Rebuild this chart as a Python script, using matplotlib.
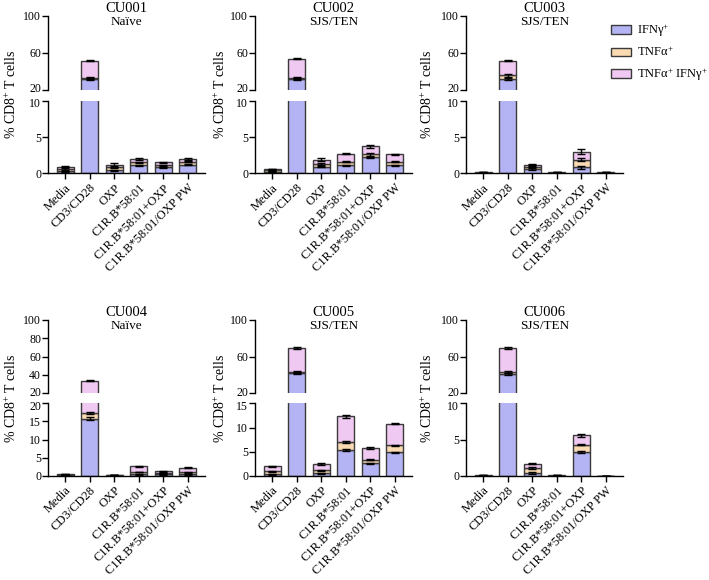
import matplotlib
matplotlib.use("Agg")
import matplotlib.pyplot as plt
from matplotlib.patches import Patch
from matplotlib.transforms import ScaledTranslation
import numpy as np

plt.rcParams['font.family'] = ['Liberation Serif', 'DejaVu Serif']
plt.rcParams['mathtext.fontset'] = 'custom'
plt.rcParams['mathtext.rm'] = 'Liberation Serif'
plt.rcParams['mathtext.it'] = 'Liberation Serif:italic'

categories = ["Media", "CD3/CD28", "OXP", "C1R.B*58:01", "C1R.B*58:01+OXP", "C1R.B*58:01/OXP PW"]
donors = ["CU001", "CU002", "CU003", "CU004", "CU005", "CU006"]
groups = ["Naïve", "SJS/TEN", "SJS/TEN", "Naïve", "SJS/TEN", "SJS/TEN"]
series_labels = ["IFNγ$^{+}$", "TNFα$^{+}$", "TNFα$^{+}$ IFNγ$^{+}$"]

# rows = donors, columns = categories
ifn = [
    [0.3, 31.0, 0.4, 1.1, 0.8, 1.2],
    [0.2, 31.5, 0.9, 1.1, 2.2, 1.1],
    [0.05, 31.5, 0.6, 0.05, 0.8, 0.05],
    [0.2, 15.8, 0.1, 0.5, 0.5, 0.5],
    [0.4, 42.0, 0.6, 5.4, 2.6, 4.9],
    [0.03, 41.0, 0.4, 0.03, 3.3, 0.01],
]
tnf = [
    [0.3, 1.5, 0.4, 0.4, 0.3, 0.4],
    [0.2, 1.0, 0.4, 0.5, 0.4, 0.5],
    [0.05, 4.0, 0.3, 0.05, 1.1, 0.05],
    [0.1, 1.5, 0.1, 0.6, 0.3, 0.5],
    [0.6, 1.0, 0.6, 1.6, 0.8, 1.4],
    [0.03, 2.0, 0.7, 0.03, 1.0, 0.01],
]
dbl = [
    [0.3, 19.0, 0.4, 0.5, 0.4, 0.4],
    [0.2, 21.0, 0.6, 1.1, 1.1, 1.0],
    [0.05, 16.0, 0.3, 0.05, 1.1, 0.05],
    [0.2, 16.2, 0.1, 1.6, 0.5, 1.3],
    [1.0, 26.5, 1.3, 5.3, 2.4, 4.5],
    [0.04, 26.5, 0.6, 0.04, 1.3, 0.01],
]
err_ifn = [
    [0.08, 1.0, 0.1, 0.1, 0.1, 0.1],
    [0.05, 1.0, 0.1, 0.1, 0.1, 0.1],
    [0.02, 1.0, 0.1, 0.02, 0.15, 0.02],
    [0.05, 0.3, 0.05, 0.1, 0.1, 0.1],
    [0.1, 1.2, 0.1, 0.2, 0.15, 0.15],
    [0.02, 1.0, 0.1, 0.02, 0.1, 0.01],
]
err_tnf = [
    [0.08, 1.0, 0.1, 0.1, 0.1, 0.1],
    [0.05, 0.8, 0.1, 0.1, 0.15, 0.1],
    [0.02, 1.5, 0.1, 0.02, 0.2, 0.02],
    [0.05, 0.3, 0.05, 0.1, 0.1, 0.1],
    [0.1, 0.8, 0.1, 0.2, 0.15, 0.15],
    [0.02, 0.8, 0.1, 0.02, 0.1, 0.01],
]
err_dbl = [
    [0.1, 0.8, 0.15, 0.1, 0.1, 0.15],
    [0.05, 0.8, 0.15, 0.1, 0.2, 0.1],
    [0.02, 0.8, 0.1, 0.02, 0.3, 0.02],
    [0.05, 0.5, 0.05, 0.1, 0.1, 0.1],
    [0.1, 0.8, 0.15, 0.3, 0.15, 0.1],
    [0.02, 0.8, 0.1, 0.02, 0.2, 0.01],
]
upper_ticks = [[20, 60, 100], [20, 60, 100], [20, 60, 100],
               [20, 40, 60, 80, 100], [20, 60, 100], [20, 60, 100]]
lower_ticks = [[0, 5, 10], [0, 5, 10], [0, 5, 10],
               [0, 5, 10, 15, 20], [0, 5, 10, 15], [0, 5, 10]]

colors = ["#b4b4f4", "#f9dab2", "#efc9f2"]
edge = "#3a3a3a"

W, H = 709, 580
fig = plt.figure(figsize=(W / 100, H / 100), dpi=100)

lefts = [48, 255, 466]
aw = 157
rows = [(16, 89.5, 100.7, 173.3), (320, 393.3, 403.3, 476)]
ylabel_x = [11, 220, 427]

x = np.arange(len(categories))
bw = 0.68

def fx(px):
    return px / W

def fy(py):
    return 1 - py / H

for i in range(6):
    r, c = divmod(i, 3)
    ut, ub, lt, lb = rows[r]
    axU = fig.add_axes([fx(lefts[c]), fy(ub), fx(aw), (ub - ut) / H])
    axL = fig.add_axes([fx(lefts[c]), fy(lb), fx(aw), (lb - lt) / H])
    segs = [ifn[i], tnf[i], dbl[i]]
    errs = [err_ifn[i], err_tnf[i], err_dbl[i]]
    for ax in (axU, axL):
        bottom = np.zeros(len(categories))
        for s in range(3):
            vals = np.array(segs[s])
            ax.bar(x, vals, bw, bottom=bottom, color=colors[s], edgecolor=edge,
                   linewidth=1.0, zorder=2)
            top = bottom + vals
            ax.errorbar(x, top, yerr=errs[s], fmt='none', ecolor='black',
                        elinewidth=1.0, capsize=3, capthick=1.0, zorder=3)
            bottom = top
        ax.set_xlim(-0.7, 5.7)
        for sp in ('top', 'right'):
            ax.spines[sp].set_visible(False)
        ax.spines['left'].set_linewidth(1.0)
        ax.spines['bottom'].set_linewidth(1.0)
        ax.tick_params(axis='y', labelsize=8.5, length=4, width=1, pad=1)
    axU.set_ylim(20, 100)
    axU.set_yticks(upper_ticks[i])
    axU.spines['bottom'].set_visible(False)
    axU.set_xticks([])
    lt_ = lower_ticks[i]
    axL.set_ylim(0, lt_[-1])
    axL.set_yticks(lt_)
    axL.set_xticks(x)
    axL.set_xticklabels(categories, rotation=45, ha='right', rotation_mode='anchor',
                        fontsize=9)
    axL.tick_params(axis='x', length=4, width=1, pad=2)
    # nudge the two labels at the axis break apart slightly
    lab_u = axU.get_yticklabels()[0]
    lab_u.set_transform(lab_u.get_transform() + ScaledTranslation(0, 2.2 / 100, fig.dpi_scale_trans))
    lab_l = axL.get_yticklabels()[-1]
    lab_l.set_transform(lab_l.get_transform() + ScaledTranslation(0, -2.2 / 100, fig.dpi_scale_trans))
    cx = lefts[c] + aw / 2
    fig.text(fx(cx), fy(ut - 8), donors[i], ha='center', va='center', fontsize=10.5)
    fig.text(fx(cx), fy(ut + 6), groups[i], ha='center', va='center', fontsize=9.5)
    fig.text(fx(ylabel_x[c]), fy((ut + lb) / 2), "% CD8$^{+}$ T cells", rotation=90,
             ha='center', va='center', fontsize=10)

handles = [Patch(facecolor=colors[k], edgecolor=edge, linewidth=1.0) for k in range(3)]
fig.legend(handles, series_labels, loc='upper left', bbox_to_anchor=(fx(606), fy(17)),
           frameon=False, fontsize=9, handlelength=1.6, handleheight=0.7,
           labelspacing=0.55, handletextpad=0.5, borderaxespad=0)

fig.savefig("out.png", dpi=100)
